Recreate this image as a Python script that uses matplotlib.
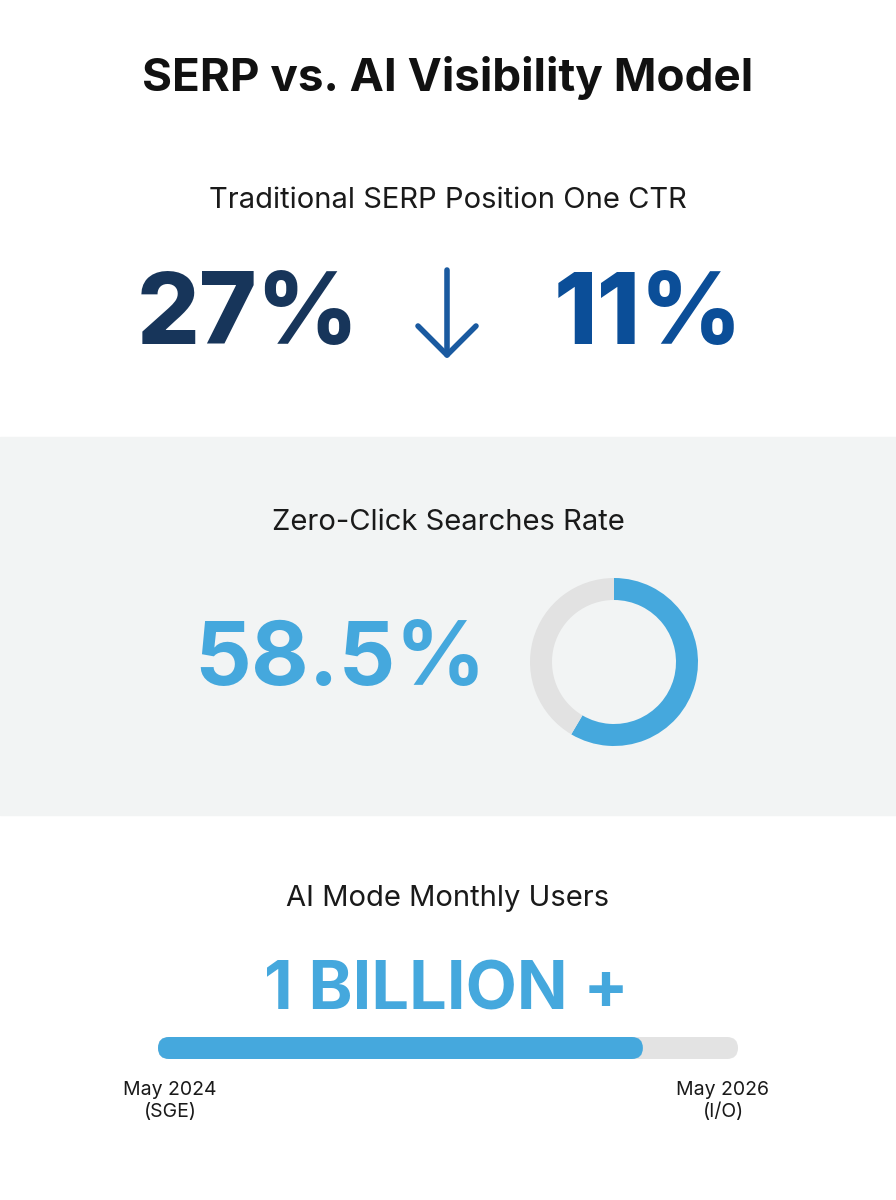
import matplotlib
matplotlib.use("Agg")
import matplotlib.pyplot as plt
from matplotlib.patches import Rectangle, FancyBboxPatch

title = "SERP vs. AI Visibility Model"
ctr_label = "Traditional SERP Position One CTR"
ctr_before, ctr_after = 27, 11
zero_label = "Zero-Click Searches Rate"
zero_rate = 58.5
users_label = "AI Mode Monthly Users"
users_value = "1 BILLION +"
timeline_progress = 0.836
timeline_labels = ["May 2024\n(SGE)", "May 2026\n(I/O)"]

plt.rcParams['font.family'] = ['Inter', 'DejaVu Sans']
fig = plt.figure(figsize=(8.96, 12), dpi=100)
ax = fig.add_axes([0, 0, 1, 1])
ax.set_xlim(0, 896); ax.set_ylim(1200, 0); ax.axis('off')

ax.add_patch(Rectangle((0, 437), 896, 378, color='#f2f4f4', zorder=0))
ax.text(448, 78, title, ha='center', va='center', fontsize=33, fontweight='bold', color='#111111')

ax.text(448, 200, ctr_label, ha='center', va='center', fontsize=21, color='#1a1a1a')
ax.text(248, 318, f"{ctr_before}%", ha='center', va='center', fontsize=71, fontweight='heavy', color='#17355a')
ax.text(648, 318, f"{ctr_after}%", ha='center', va='center', fontsize=71, fontweight='heavy', color='#0b4e98')
ax.plot([447, 447], [270, 355], color='#1a5aa0', lw=4, solid_capstyle='round')
ax.plot([418, 447, 476], [326, 355, 326], color='#1a5aa0', lw=4, solid_capstyle='round', solid_joinstyle='round')

ax.text(448, 523, zero_label, ha='center', va='center', fontsize=21, color='#1a1a1a')
ax.text(340, 662, f"{zero_rate}%", ha='center', va='center', fontsize=64, fontweight='bold', color='#45a8dd')

dax = fig.add_axes([(614-90)/896, 1-(662+90)/1200, 180/896, 180/1200])
dax.pie([zero_rate, 100-zero_rate], colors=['#45a8dd', '#e2e2e2'], startangle=90, counterclock=False,
        radius=84/90, wedgeprops=dict(width=22/90, linewidth=0))
dax.set_xlim(-1, 1); dax.set_ylim(-1, 1); dax.set_aspect('equal'); dax.axis('off')

ax.text(448, 898, users_label, ha='center', va='center', fontsize=21, color='#1a1a1a')
ax.text(446, 992, users_value, ha='center', va='center', fontsize=48, fontweight='bold', color='#45a8dd')
x0, x1, yb, h = 158, 738, 1048, 22
ax.add_patch(FancyBboxPatch((x0, yb-h/2), x1-x0, h, boxstyle="round,pad=0,rounding_size=11", color='#e3e3e3', lw=0))
ax.add_patch(FancyBboxPatch((x0, yb-h/2), (x1-x0)*timeline_progress, h, boxstyle="round,pad=0,rounding_size=11", color='#45a8dd', lw=0))
ax.text(170, 1101, timeline_labels[0], ha='center', va='center', fontsize=14, color='#1a1a1a', linespacing=1.3)
ax.text(723, 1101, timeline_labels[1], ha='center', va='center', fontsize=14, color='#1a1a1a', linespacing=1.3)

fig.savefig("out.png", dpi=100, facecolor='white')
